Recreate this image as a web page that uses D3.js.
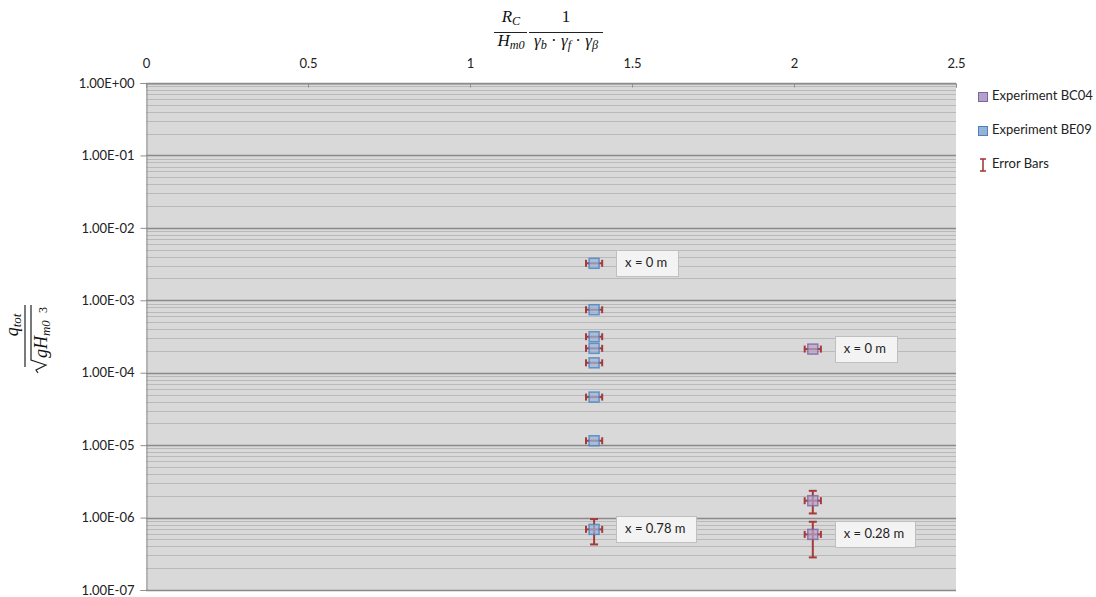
<!DOCTYPE html>
<html>
<head>
<meta charset="utf-8">
<script src="https://cdn.jsdelivr.net/npm/d3@7"></script>
<style>
  html, body { margin: 0; padding: 0; background: #fff; }
  svg { display: block; font-family: Lato, "Open Sans", sans-serif; }
</style>
</head>
<body>
<svg id="chart" width="1096" height="597"></svg>
<script>
// Dimensionless overtopping discharge vs relative freeboard
const seriesNames = ["Experiment BC04", "Experiment BE09"];

const be09X = [1.383, 1.383, 1.383, 1.383, 1.383, 1.383, 1.383, 1.383];
const be09Y = [3.24e-3, 7.41e-4, 3.14e-4, 2.17e-4, 1.37e-4, 4.61e-5, 1.15e-5, 6.87e-7];
const be09YLow = [null, null, null, null, null, null, null, 4.26e-7];
const be09YHigh = [null, null, null, null, null, null, null, 9.53e-7];

const bc04X = [2.058, 2.058, 2.058];
const bc04Y = [2.12e-4, 1.71e-6, 5.86e-7];
const bc04YLow = [null, 1.14e-6, 2.82e-7];
const bc04YHigh = [null, 2.34e-6, 8.75e-7];

const xErr = 0.025;

// point annotations: series, index, text
const annotations = [
  { series: "BE09", index: 0, text: "x = 0 m" },
  { series: "BE09", index: 7, text: "x = 0.78 m" },
  { series: "BC04", index: 0, text: "x = 0 m" },
  { series: "BC04", index: 2, text: "x = 0.28 m" }
];

const xTicks = [0, 0.5, 1, 1.5, 2, 2.5];
const yTicks = [1, 1e-1, 1e-2, 1e-3, 1e-4, 1e-5, 1e-6, 1e-7];

const svg = d3.select("#chart");
const plotLeft = 146, plotRight = 956, plotTop = 83, plotBottom = 590;

const x = d3.scaleLinear().domain([0, 2.5]).range([plotLeft, plotRight]);
const y = d3.scaleLog().domain([1e-7, 1]).range([plotBottom, plotTop]);

const sciFmt = v => {
  const e = Math.round(Math.log10(v));
  const m = v / Math.pow(10, e);
  const sign = e < 0 ? "-" : "+";
  return m.toFixed(2) + "E" + sign + String(Math.abs(e)).padStart(2, "0");
};

// plot area
svg.append("rect").attr("x", plotLeft).attr("y", plotTop)
  .attr("width", plotRight - plotLeft).attr("height", plotBottom - plotTop)
  .attr("fill", "#d9d9d9");

// minor gridlines
const minor = [];
for (let e = -7; e < 0; e++) for (let k = 2; k <= 9; k++) minor.push(k * Math.pow(10, e));
svg.append("g").selectAll("line").data(minor).join("line")
  .attr("x1", plotLeft).attr("x2", plotRight)
  .attr("y1", d => Math.round(y(d)) + 0.5).attr("y2", d => Math.round(y(d)) + 0.5)
  .attr("stroke", "#b9b9b9").attr("stroke-width", 1);

// major gridlines
svg.append("g").selectAll("line").data(yTicks).join("line")
  .attr("x1", plotLeft).attr("x2", plotRight)
  .attr("y1", d => Math.round(y(d)) + 0.5).attr("y2", d => Math.round(y(d)) + 0.5)
  .attr("stroke", "#8a8a8a").attr("stroke-width", 1.4);

// left axis
const yAxis = d3.axisLeft(y).tickValues(yTicks).tickFormat(sciFmt).tickSize(6).tickPadding(6);
const gy = svg.append("g").attr("transform", `translate(${plotLeft + 0.5},0)`).call(yAxis);
gy.select(".domain").attr("stroke", "#8f8f8f");
gy.selectAll(".tick line").attr("stroke", "#8f8f8f");
gy.selectAll(".tick text").attr("font-family", "Lato, sans-serif").attr("font-size", 13).attr("fill", "#222");

// top axis
const xAxis = d3.axisTop(x).tickValues(xTicks).tickFormat(d3.format("")).tickSize(-4).tickPadding(16);
const gx = svg.append("g").attr("transform", `translate(0,${plotTop + 0.5})`).call(xAxis);
gx.select(".domain").attr("stroke", "#8f8f8f");
gx.selectAll(".tick line").attr("stroke", "#8f8f8f");
gx.selectAll(".tick text").attr("font-family", "Lato, sans-serif").attr("font-size", 13).attr("fill", "#222");

const errColor = "#a63a3a";

function drawSeries(xs, ys, lows, highs, fill, stroke) {
  const g = svg.append("g");
  const idx = d3.range(xs.length);
  // vertical error bars
  idx.filter(i => lows[i] != null).forEach(i => {
    const cx = x(xs[i]);
    g.append("line").attr("x1", cx).attr("x2", cx).attr("y1", y(highs[i])).attr("y2", y(lows[i]))
      .attr("stroke", errColor).attr("stroke-width", 2);
    [highs[i], lows[i]].forEach(v => g.append("line")
      .attr("x1", cx - 4).attr("x2", cx + 4).attr("y1", y(v)).attr("y2", y(v))
      .attr("stroke", errColor).attr("stroke-width", 2));
  });
  // horizontal error bars
  idx.forEach(i => {
    const cy = y(ys[i]);
    const x0 = x(xs[i] - xErr), x1 = x(xs[i] + xErr);
    g.append("line").attr("x1", x0).attr("x2", x1).attr("y1", cy).attr("y2", cy)
      .attr("stroke", errColor).attr("stroke-width", 2);
    [x0, x1].forEach(xx => g.append("line")
      .attr("x1", xx).attr("x2", xx).attr("y1", cy - 3.5).attr("y2", cy + 3.5)
      .attr("stroke", errColor).attr("stroke-width", 2));
  });
  // markers
  g.selectAll("rect.m").data(idx).join("rect").attr("class", "m")
    .attr("x", i => x(xs[i]) - 5).attr("y", i => y(ys[i]) - 5)
    .attr("width", 10).attr("height", 10)
    .attr("fill", fill).attr("fill-opacity", 0.72)
    .attr("stroke", stroke).attr("stroke-opacity", 0.8).attr("stroke-width", 1.5);
}

drawSeries(be09X, be09Y, be09YLow, be09YHigh, "#95b3d7", "#4f81bd");
drawSeries(bc04X, bc04Y, bc04YLow, bc04YHigh, "#b3a2c7", "#8064a2");

// annotation boxes
const seriesData = { BE09: { xs: be09X, ys: be09Y }, BC04: { xs: bc04X, ys: bc04Y } };
annotations.forEach(a => {
  const s = seriesData[a.series];
  const px = x(s.xs[a.index]), py = y(s.ys[a.index]);
  const g = svg.append("g");
  const t = g.append("text").attr("x", px + 22 + 9).attr("y", py + 0.5)
    .attr("dominant-baseline", "middle").attr("font-size", 13).attr("fill", "#222")
    .text(a.text);
  const w = t.node().getComputedTextLength() + 20;
  g.insert("rect", "text").attr("x", Math.round(px + 22) + 0.5).attr("y", Math.round(py - 13) + 0.5)
    .attr("width", Math.round(w)).attr("height", 26)
    .attr("fill", "#f3f3f3").attr("stroke", "#bfbfbf").attr("stroke-width", 1);
});

// legend
const legend = svg.append("g").attr("transform", "translate(978,0)");
const legendItems = [
  { name: seriesNames[0], fill: "#b3a2c7", stroke: "#8064a2", cy: 97 },
  { name: seriesNames[1], fill: "#95b3d7", stroke: "#4f81bd", cy: 131 }
];
legendItems.forEach(d => {
  legend.append("rect").attr("x", 0.5).attr("y", d.cy - 4.5).attr("width", 9).attr("height", 9)
    .attr("fill", d.fill).attr("stroke", d.stroke).attr("stroke-width", 1);
  legend.append("text").attr("x", 14).attr("y", d.cy).attr("dominant-baseline", "middle")
    .attr("font-size", 13).attr("fill", "#222").text(d.name);
});
{
  const cy = 165, ex = 5;
  legend.append("line").attr("x1", ex).attr("x2", ex).attr("y1", cy - 6).attr("y2", cy + 6)
    .attr("stroke", errColor).attr("stroke-width", 1.6);
  [cy - 6, cy + 6].forEach(v => legend.append("line").attr("x1", ex - 3).attr("x2", ex + 3)
    .attr("y1", v).attr("y2", v).attr("stroke", errColor).attr("stroke-width", 1.6));
  legend.append("text").attr("x", 14).attr("y", cy).attr("dominant-baseline", "middle")
    .attr("font-size", 13).attr("fill", "#222").text("Error Bars");
}

// x-axis title: R_C / H_m0 * 1 / (γb · γf · γβ)
const mathFont = "'Liberation Serif', 'DejaVu Serif', serif";
const xt = svg.append("g").attr("font-family", mathFont).attr("fill", "#111");
function mathText(g, xPos, yPos, parts, anchor, size) {
  const t = g.append("text").attr("x", xPos).attr("y", yPos).attr("text-anchor", anchor)
    .attr("font-size", size);
  parts.forEach(p => {
    const ts = t.append("tspan").text(p.t);
    if (p.italic !== false) ts.attr("font-style", "italic");
    if (p.sub) ts.attr("font-size", size * 0.72).attr("dy", p.dy || 3);
    if (p.sup) ts.attr("font-size", size * 0.72).attr("dy", p.dy || -6);
    if (p.back) ts.attr("dy", p.back);
  });
  return t;
}
mathText(xt, 511, 22, [{ t: "R" }, { t: "C", sub: true }], "middle", 17);
xt.append("line").attr("x1", 494).attr("x2", 527).attr("y1", 32.5).attr("y2", 32.5)
  .attr("stroke", "#222").attr("stroke-width", 1);
mathText(xt, 511, 46, [{ t: "H" }, { t: "m0", sub: true }], "middle", 17);
mathText(xt, 566, 22, [{ t: "1", italic: false }], "middle", 17);
xt.append("line").attr("x1", 529).attr("x2", 603).attr("y1", 32.5).attr("y2", 32.5)
  .attr("stroke", "#222").attr("stroke-width", 1);
mathText(xt, 566, 46, [
  { t: "γ" }, { t: "b", sub: true },
  { t: " · ", italic: false, back: -3 }, { t: "γ" }, { t: "f", sub: true },
  { t: " · ", italic: false, back: -3 }, { t: "γ" }, { t: "β", sub: true }
], "middle", 17);

// y-axis title: q_tot / sqrt(g H_m0)^3, rotated
const yt = svg.append("g").attr("font-family", mathFont).attr("fill", "#111")
  .attr("transform", "translate(25,336) rotate(-90)");
mathText(yt, 11, -7, [{ t: "q" }, { t: "tot", sub: true }], "middle", 18);
yt.append("line").attr("x1", -31).attr("x2", 31).attr("y1", 0).attr("y2", 0)
  .attr("stroke", "#222").attr("stroke-width", 1.2);
yt.append("path")
  .attr("d", "M -37 13 L -34 11 L -29 21 L -24 6 L 31 6")
  .attr("fill", "none").attr("stroke", "#222").attr("stroke-width", 1.2);
mathText(yt, -22, 22, [{ t: "g" }, { t: "H" }, { t: "m0", sub: true }], "start", 18);
mathText(yt, 23, 22, [{ t: "3", italic: false }], "start", 12);
</script>
</body>
</html>
